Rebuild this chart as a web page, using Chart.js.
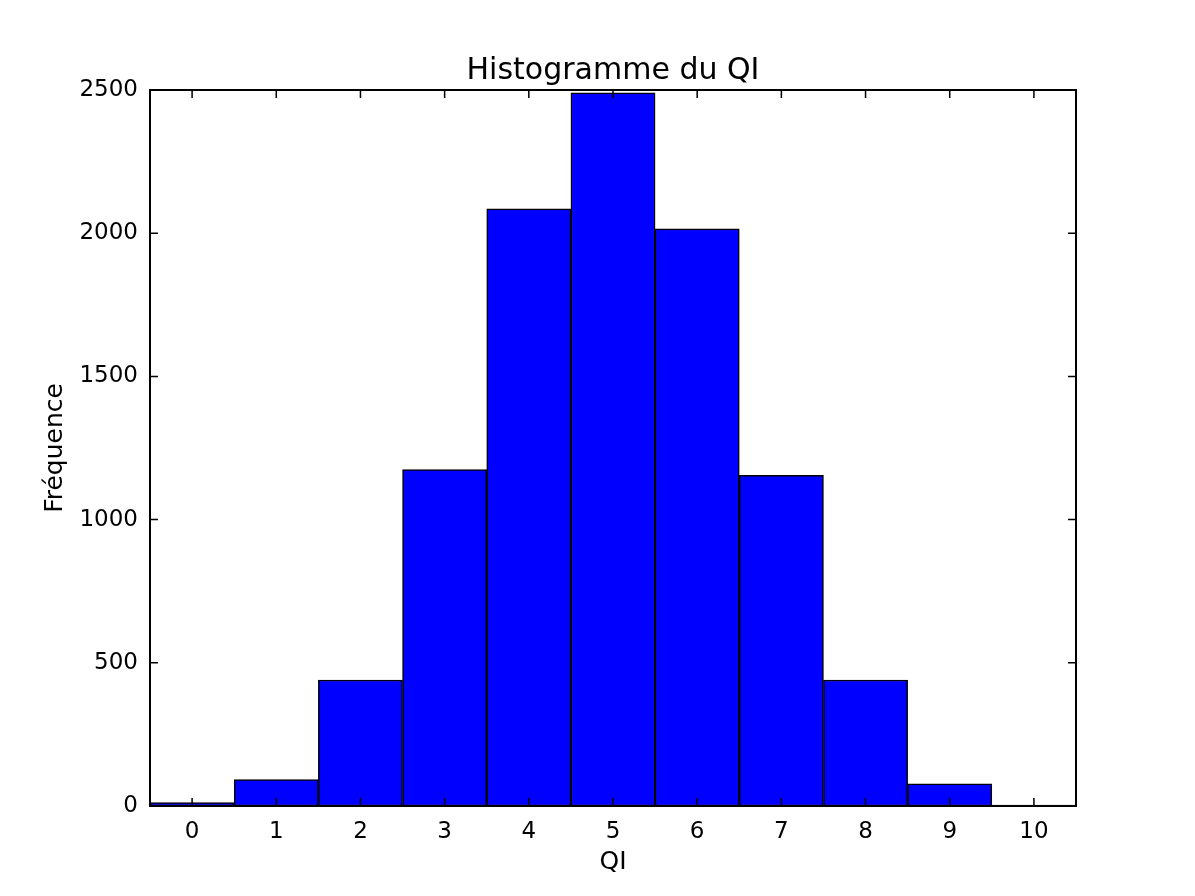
<!DOCTYPE html>
<html>
<head>
<meta charset="utf-8">
<script src="https://cdn.jsdelivr.net/npm/chart.js@4"></script>
<style>
  html, body { margin: 0; padding: 0; background: #fff; }
  #wrap { width: 1195px; height: 896px; }
</style>
</head>
<body>
<div id="wrap"><canvas id="hist"></canvas></div>
<script>
const QI_LABELS = ['0', '1', '2', '3', '4', '5', '6', '7', '8', '9', '10'];
const FREQUENCES = [12, 92, 440, 1175, 2085, 2490, 2015, 1155, 440, 77, 3];
const Y_TICKS = [0, 500, 1000, 1500, 2000, 2500];
const TITLE = 'Histogramme du QI';

const FONT = 'DejaVu Sans';

// matplotlib classic look: inward ticks on all four sides, framed axes,
// title centred over the plot area rather than the canvas
const classicFrame = {
  id: 'classicFrame',
  afterDatasetsDraw(chart) {
    const { ctx, chartArea: a, scales } = chart;
    const len = 8;
    ctx.save();
    ctx.strokeStyle = '#000';
    ctx.lineWidth = 1.5;
    ctx.beginPath();
    QI_LABELS.forEach((_, i) => {
      const x = scales.x.getPixelForValue(i);
      ctx.moveTo(x, a.bottom); ctx.lineTo(x, a.bottom - len);
      ctx.moveTo(x, a.top); ctx.lineTo(x, a.top + len);
    });
    Y_TICKS.forEach(v => {
      const y = scales.y.getPixelForValue(v);
      ctx.moveTo(a.left, y); ctx.lineTo(a.left + len, y);
      ctx.moveTo(a.right, y); ctx.lineTo(a.right - len, y);
    });
    ctx.stroke();
    ctx.lineWidth = 2;
    ctx.strokeRect(a.left, a.top, a.right - a.left, a.bottom - a.top);

    ctx.fillStyle = '#000';
    ctx.font = `30px "${FONT}"`;
    ctx.textAlign = 'center';
    ctx.textBaseline = 'alphabetic';
    ctx.fillText(TITLE, (a.left + a.right) / 2, a.top - 11);
    ctx.restore();
  }
};

new Chart(document.getElementById('hist'), {
  type: 'bar',
  data: {
    labels: QI_LABELS,
    datasets: [{
      data: FREQUENCES,
      backgroundColor: '#0000ff',
      borderColor: '#000',
      borderWidth: 1.5,
      borderSkipped: false,
      barPercentage: 1,
      categoryPercentage: 1
    }]
  },
  options: {
    responsive: true,
    maintainAspectRatio: false,
    animation: false,
    layout: { padding: { left: 0, top: 90, right: 119, bottom: 0 } },
    scales: {
      x: {
        grid: { display: false, drawTicks: false },
        border: { display: false },
        ticks: { color: '#000', font: { family: FONT, size: 23 }, padding: 12, maxRotation: 0 },
        title: { display: true, text: 'QI', color: '#000', font: { family: FONT, size: 25 }, padding: { bottom: 19 } },
        afterFit: s => { s.height = 90; }
      },
      y: {
        min: 0,
        max: 2500,
        grid: { display: false, drawTicks: false },
        border: { display: false },
        ticks: {
          stepSize: 500,
          color: '#000',
          font: { family: FONT, size: 23 },
          padding: 12,
          callback: v => String(v)
        },
        title: { display: true, text: 'Fréquence', color: '#000', font: { family: FONT, size: 25 }, padding: { top: 40 } },
        afterFit: s => { s.width = 150; }
      }
    },
    plugins: {
      legend: { display: false },
      tooltip: { enabled: false }
    }
  },
  plugins: [classicFrame]
});
</script>
</body>
</html>
